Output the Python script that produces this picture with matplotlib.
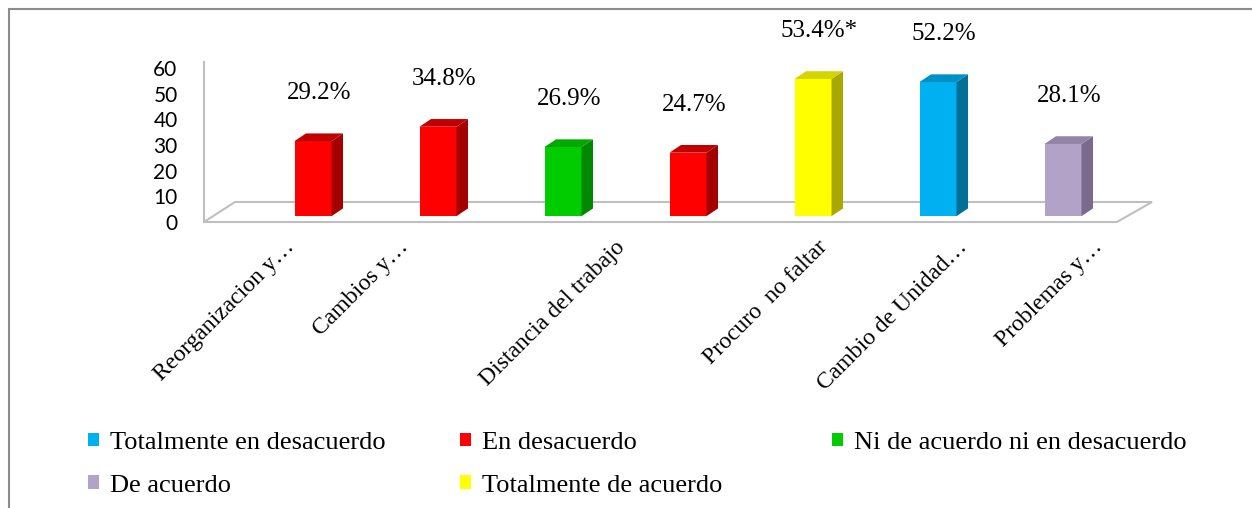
import matplotlib
matplotlib.use("Agg")
import matplotlib.pyplot as plt
from matplotlib.patches import Polygon, Patch, Rectangle
from matplotlib.transforms import ScaledTranslation

# data
categories = ["Reorganizacion y…", "Cambios y…", "Distancia del trabajo",
              "Procuro  no faltar", "Cambio de Unidad…", "Problemas y…"]
values = [29.2, 34.8, 26.9, 24.7, 53.4, 52.2, 28.1]
value_labels = ["29.2%", "34.8%", "26.9%", "24.7%", "53.4%*", "52.2%", "28.1%"]
bar_series = ["En desacuerdo", "En desacuerdo", "Ni de acuerdo ni en desacuerdo",
              "En desacuerdo", "Totalmente de acuerdo", "Totalmente en desacuerdo",
              "De acuerdo"]
series = ["Totalmente en desacuerdo", "En desacuerdo",
          "Ni de acuerdo ni en desacuerdo", "De acuerdo", "Totalmente de acuerdo"]
y_ticks = [0, 10, 20, 30, 40, 50, 60]

# front / side / top colours per series
front = {"Totalmente en desacuerdo": "#00B0F0", "En desacuerdo": "#FF0000",
         "Ni de acuerdo ni en desacuerdo": "#00CC00", "De acuerdo": "#B3A2C7",
         "Totalmente de acuerdo": "#FFFF00"}
side = {"Totalmente en desacuerdo": "#006F98", "En desacuerdo": "#A50000",
        "Ni de acuerdo ni en desacuerdo": "#008800", "De acuerdo": "#7A6A8E",
        "Totalmente de acuerdo": "#A8A800"}
top = {"Totalmente en desacuerdo": "#0090C8", "En desacuerdo": "#C00000",
       "Ni de acuerdo ni en desacuerdo": "#00A800", "De acuerdo": "#9383A8",
       "Totalmente de acuerdo": "#D4D400"}

# where the (perspective-shifted) category labels sit along the x axis
label_x = [-0.17, 0.74, 2.47, 4.09, 5.21, 6.29]

W, H = 1252, 508
fig = plt.figure(figsize=(W / 100, H / 100), dpi=100)

# axes box in pixels: x 204..1152, y 62..222
ax = fig.add_axes([204 / W, (H - 222) / H, 948 / W, 160 / H])
ax.set_xlim(-0.872, 6.712)
ax.set_ylim(-2.27, 58.22)

bw = 0.296      # front width (category units)
dx = 0.092      # depth offset x
dy = 3.0        # depth offset y (value units)
grid_col = "#BFBFBF"

# floor
floor = Polygon([(0, 0), (0.0327, 0.125), (1.0, 0.125), (0.963, 0)],
                closed=True, transform=ax.transAxes, facecolor="white",
                edgecolor=grid_col, lw=1.5, zorder=1, clip_on=False)
ax.add_patch(floor)

x = list(range(len(values)))
colors = [front[s] for s in bar_series]
ax.bar(x, values, width=bw, color=colors, zorder=3, clip_on=False)

for i, v in enumerate(values):
    s = bar_series[i]
    l, r = i - bw / 2, i + bw / 2
    ax.add_patch(Polygon([(r, 0), (r + dx, dy), (r + dx, v + dy), (r, v)],
                         closed=True, facecolor=side[s], edgecolor="none",
                         zorder=3, clip_on=False))
    ax.add_patch(Polygon([(l, v), (l + dx, v + dy), (r + dx, v + dy), (r, v)],
                         closed=True, facecolor=top[s], edgecolor="none",
                         zorder=3, clip_on=False))
    ax.annotate(value_labels[i], xy=(i + dx / 2, v), xytext=(0, 42),
                textcoords="offset pixels", ha="center", va="baseline",
                fontsize=18, family="Liberation Serif", color="black",
                annotation_clip=False)

# axes styling
for side_name in ["top", "right", "bottom"]:
    ax.spines[side_name].set_visible(False)
ax.spines["left"].set_color(grid_col)
ax.spines["left"].set_linewidth(1.5)

ax.set_yticks(y_ticks)
ax.set_yticklabels([str(t) for t in y_ticks], fontsize=15, family="Lato")
ax.tick_params(axis="y", length=0, pad=19)
for lbl in ax.get_yticklabels():
    lbl.set_transform(lbl.get_transform() + ScaledTranslation(0, -6 / 100, fig.dpi_scale_trans))

ax.set_xticks(label_x)
ax.set_xticklabels(categories, rotation=45, ha="right", va="center",
                   rotation_mode="anchor", fontsize=17, family="Liberation Serif")
ax.tick_params(axis="x", length=0, pad=16)

# legend: three columns of fixed width
handles = {s: Patch(facecolor=front[s], edgecolor="none") for s in series}
columns = [["Totalmente en desacuerdo", "De acuerdo"],
           ["En desacuerdo", "Totalmente de acuerdo"],
           ["Ni de acuerdo ni en desacuerdo"]]
col_x = [88, 460, 832]
for cx, col in zip(col_x, columns):
    fig.legend([handles[s] for s in col], col, loc="upper left",
               bbox_to_anchor=(cx / W, 1 - 432 / H), frameon=False,
               prop={"family": "Liberation Serif", "size": 19},
               handlelength=0.42, handleheight=0.42, handletextpad=0.4,
               labelspacing=0.78, borderpad=0, borderaxespad=0)

# outer chart frame (left and top edges visible)
fig.add_artist(Rectangle((9 / W, -0.1), 1.2, 1 - 9 / H + 0.1,
                         transform=fig.transFigure, fill=False,
                         edgecolor="#8C8C8C", lw=1.5))

fig.savefig("out.png", dpi=100)
